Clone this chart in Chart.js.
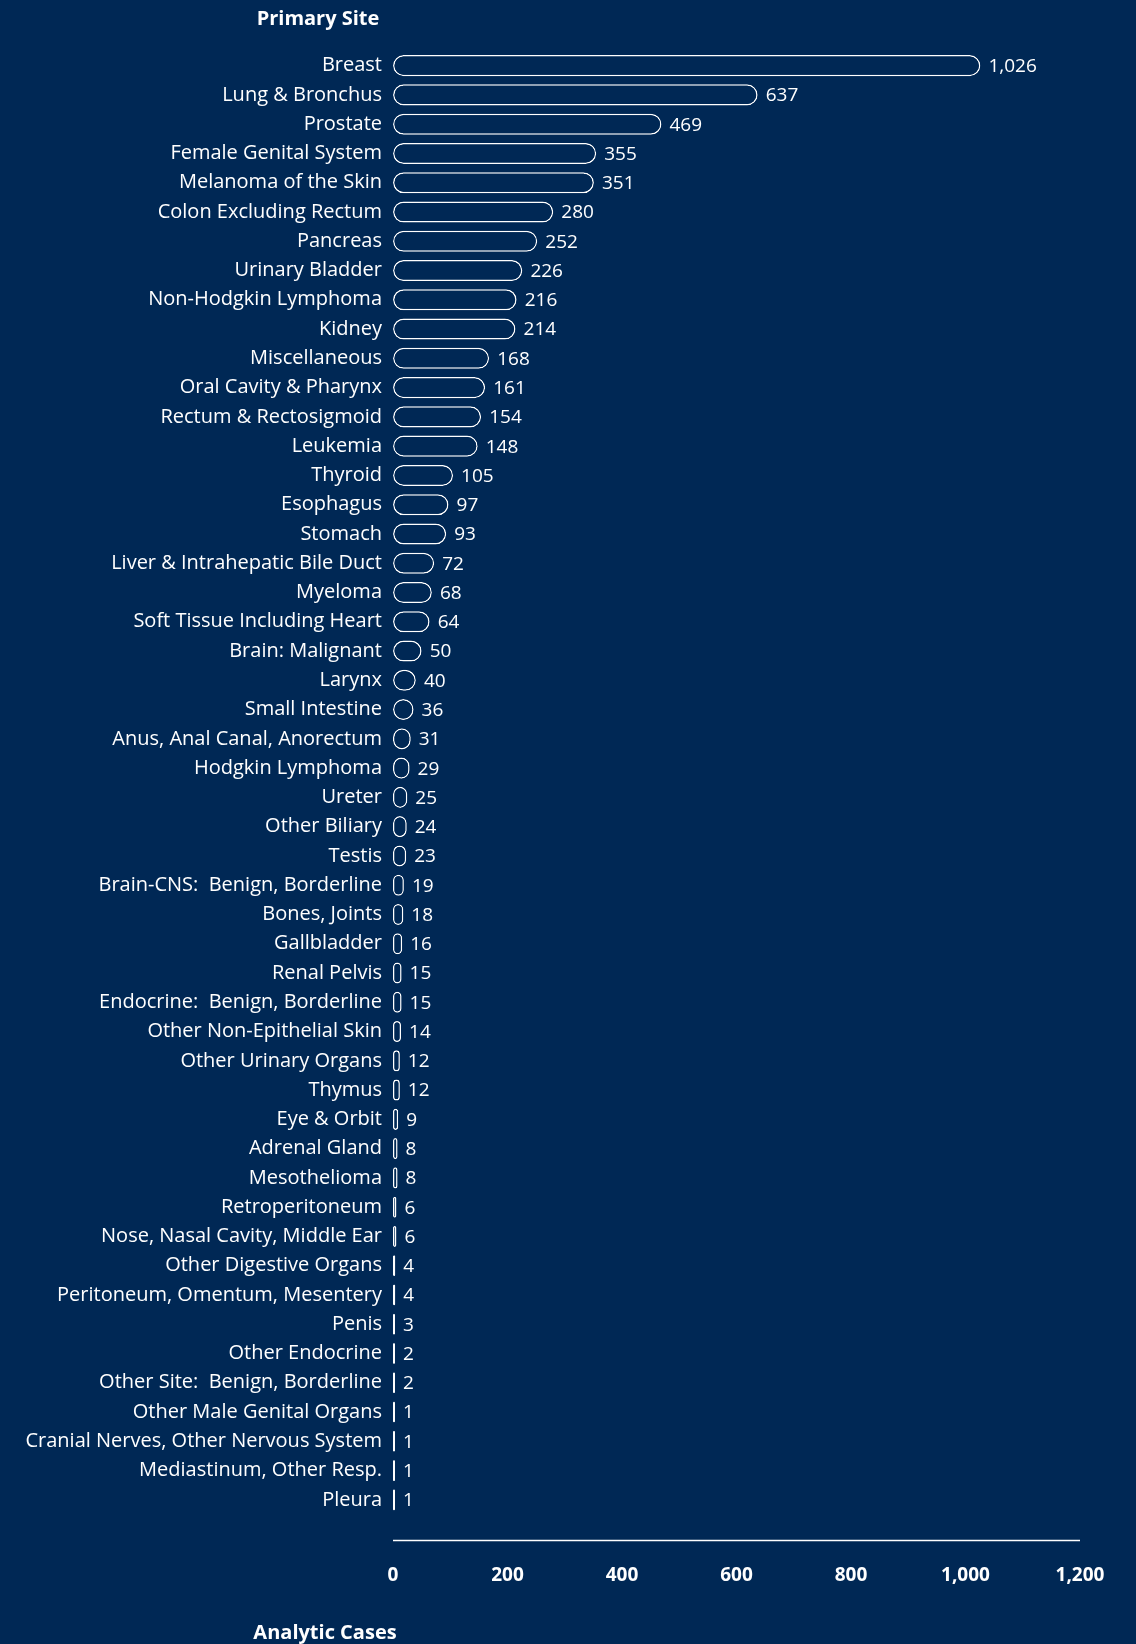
<!DOCTYPE html>
<html>
<head>
<meta charset="utf-8">
<script src="https://cdn.jsdelivr.net/npm/chart.js@4.4.0/dist/chart.umd.min.js"></script>
<style>
  html, body { margin: 0; padding: 0; background: #002855; overflow: hidden; }
  #wrap { width: 1136px; height: 1644px; position: relative; }
</style>
</head>
<body>
<div id="wrap"><canvas id="chart1"></canvas></div>
<script>
// Analytic cases by primary site
const sites = [
    'Breast', 'Lung & Bronchus', 'Prostate', 'Female Genital System', 'Melanoma of the Skin',
    'Colon Excluding Rectum', 'Pancreas', 'Urinary Bladder', 'Non-Hodgkin Lymphoma', 'Kidney',
    'Miscellaneous', 'Oral Cavity & Pharynx', 'Rectum & Rectosigmoid', 'Leukemia', 'Thyroid',
    'Esophagus', 'Stomach', 'Liver & Intrahepatic Bile Duct', 'Myeloma', 'Soft Tissue Including Heart',
    'Brain: Malignant', 'Larynx', 'Small Intestine', 'Anus, Anal Canal, Anorectum', 'Hodgkin Lymphoma',
    'Ureter', 'Other Biliary', 'Testis', 'Brain-CNS:  Benign, Borderline', 'Bones, Joints',
    'Gallbladder', 'Renal Pelvis', 'Endocrine:  Benign, Borderline', 'Other Non-Epithelial Skin', 'Other Urinary Organs',
    'Thymus', 'Eye & Orbit', 'Adrenal Gland', 'Mesothelioma', 'Retroperitoneum',
    'Nose, Nasal Cavity, Middle Ear', 'Other Digestive Organs', 'Peritoneum, Omentum, Mesentery', 'Penis', 'Other Endocrine',
    'Other Site:  Benign, Borderline', 'Other Male Genital Organs', 'Cranial Nerves, Other Nervous System', 'Mediastinum, Other Resp.', 'Pleura'
];
const cases = [
    1026, 637, 469, 355, 351,
    280, 252, 226, 216, 214,
    168, 161, 154, 148, 105,
    97, 93, 72, 68, 64,
    50, 40, 36, 31, 29,
    25, 24, 23, 19, 18,
    16, 15, 15, 14, 12,
    12, 9, 8, 8, 6,
    6, 4, 4, 3, 2,
    2, 1, 1, 1, 1
];
const xTicks = [0, 200, 400, 600, 800, 1000, 1200];

const bg = '#002855';
const fontName = "'Open Sans', 'Noto Sans', sans-serif";

function fmt(v) {
    return v.toLocaleString('en-US');
}

// value labels, axis line and the two titles
const extras = {
    id: 'extras',
    beforeDraw(chart) {
        const c = chart.ctx;
        c.save();
        c.fillStyle = bg;
        c.fillRect(0, 0, chart.width, chart.height);
        c.restore();
    },
    afterDatasetsDraw(chart) {
        const c = chart.ctx;
        const meta = chart.getDatasetMeta(0);
        const xs = chart.scales.x;
        c.save();
        c.fillStyle = '#ffffff';
        c.font = '19px ' + fontName;
        c.textAlign = 'left';
        c.textBaseline = 'middle';
        meta.data.forEach(function (bar, i) {
            c.fillText(fmt(cases[i]), bar.x + 8, bar.y + 1);
        });

        // axis line sits a bit under the last bar
        const ly = chart.chartArea.bottom + 26;
        c.strokeStyle = '#ffffff';
        c.lineWidth = 1.5;
        c.beginPath();
        c.moveTo(xs.left, ly);
        c.lineTo(xs.right, ly);
        c.stroke();

        c.font = 'bold 20px ' + fontName;
        c.textAlign = 'center';
        c.fillText('Primary Site', 318, 19);
        c.fillText('Analytic Cases', 325, 1633);
        c.restore();
    }
};

const ctx = document.getElementById('chart1').getContext('2d');
const chart1 = new Chart(ctx, {
    type: 'bar',
    data: {
        labels: sites,
        datasets: [{
            label: 'Analytic Cases',
            data: cases,
            backgroundColor: bg,
            borderColor: '#ffffff',
            borderWidth: 1.5,
            borderRadius: 20,
            borderSkipped: false,
            minBarLength: 2,
            barPercentage: 0.72,
            categoryPercentage: 1
        }]
    },
    options: {
        indexAxis: 'y',
        responsive: true,
        maintainAspectRatio: false,
        animation: false,
        layout: {
            padding: { top: 51, right: 56, bottom: 0, left: 0 }
        },
        plugins: {
            legend: { display: false },
            tooltip: { enabled: false }
        },
        scales: {
            x: {
                min: 0,
                max: 1200,
                afterBuildTicks: function (scale) {
                    scale.ticks = xTicks.map(function (v) { return { value: v }; });
                },
                afterFit: function (scale) {
                    scale.height = 129.5;
                },
                grid: { display: false, drawTicks: false },
                border: { display: false },
                ticks: {
                    color: '#ffffff',
                    padding: 0,
                    // tall line so the labels sit well under the axis line
                    font: { family: fontName, size: 19, weight: 'bold', lineHeight: 6.47 },
                    callback: function (v) { return fmt(v); }
                }
            },
            y: {
                afterFit: function (scale) {
                    scale.width = 393;
                },
                grid: { display: false, drawTicks: false },
                border: { display: false },
                ticks: {
                    color: '#ffffff',
                    padding: 11,
                    autoSkip: false,
                    font: { family: fontName, size: 20 }
                }
            }
        }
    },
    plugins: [extras]
});
</script>
</body>
</html>
